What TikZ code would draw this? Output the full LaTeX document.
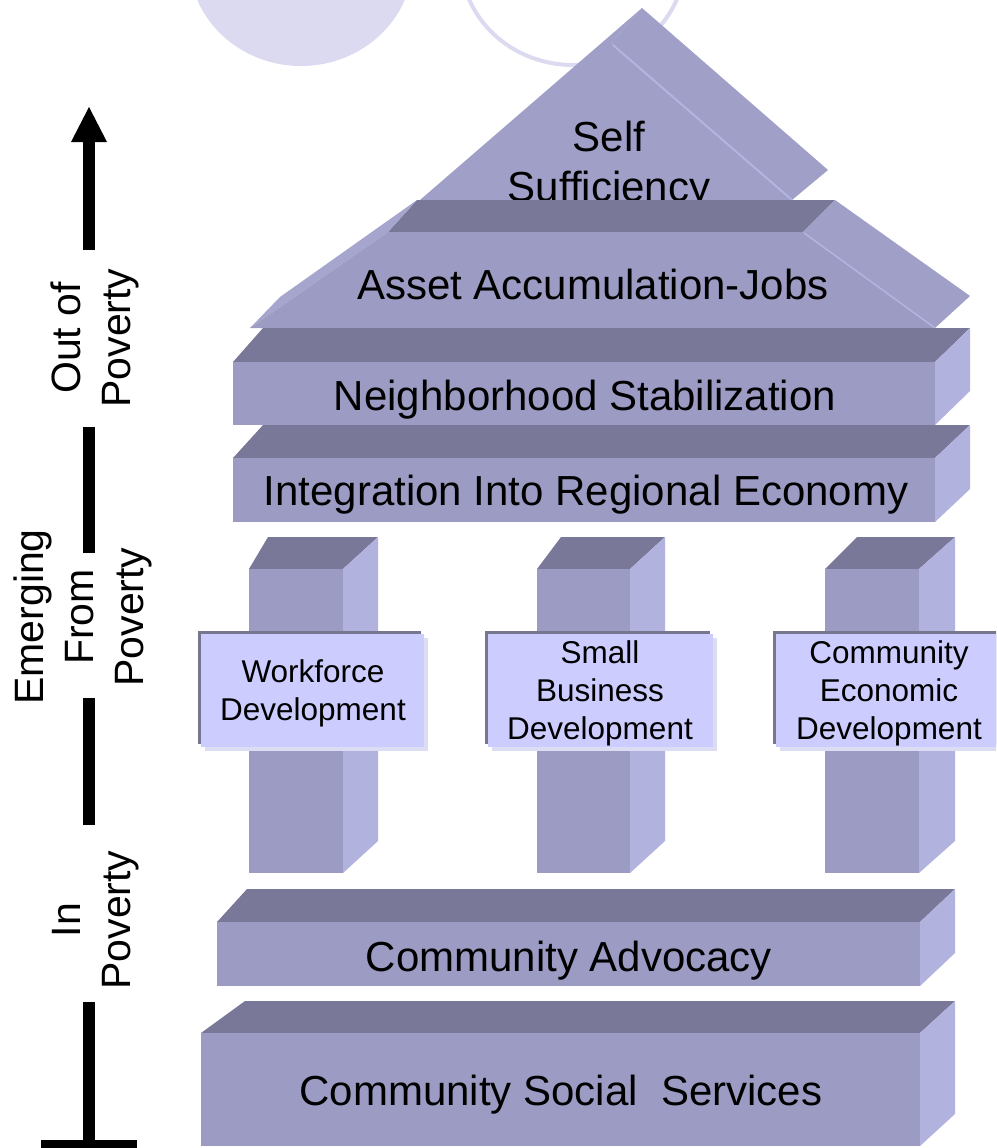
\documentclass[tikz,border=0pt]{standalone}
\usepackage{fontspec}
\setmainfont{Liberation Sans}
\definecolor{frontc}{HTML}{9C9BC4}
\definecolor{topc}{HTML}{7A7898}
\definecolor{sidec}{HTML}{B2B2DF}
\definecolor{roofc}{HTML}{A09FC8}
\definecolor{sliverc}{HTML}{A6A5CD}
\definecolor{ridgec}{HTML}{B4B4E2}
\definecolor{labelc}{HTML}{CCCCFF}
\definecolor{labdark}{HTML}{76768E}
\definecolor{labshadow}{HTML}{DCDCF2}
\definecolor{circc}{HTML}{DCDAF0}
% front rect x1,y1,x2,y2 ; left dx ; right dx ; depth (up)
\newcommand\prismbox[7]{%
  \fill[topc] (#1,#2) -- (#3,#2) -- (#3+#6,#2-#7) -- (#1+#5,#2-#7) -- cycle;
  \fill[sidec] (#3,#2) -- (#3+#6,#2-#7) -- (#3+#6,#4-#7) -- (#3,#4) -- cycle;
  \fill[frontc] (#1,#2) rectangle (#3,#4);
}
\newcommand\labelbox[4]{%
  \fill[labdark] (#1-3,#2-3) rectangle (#3-3,#4-3);
  \fill[labshadow] (#1+4,#2+4) rectangle (#3+4,#4+4);
  \fill[labelc] (#1,#2) rectangle (#3,#4);
}
\begin{document}
\begin{tikzpicture}[x=1pt,y=-1pt,
  every node/.style={inner sep=0pt,outer sep=0pt},
  bigtxt/.style={font=\fontsize{42}{50}\selectfont,align=center},
  sidetxt/.style={font=\fontsize{41}{50}\selectfont,align=center,rotate=90},
  pilltxt/.style={font=\fontsize{31.5}{38}\selectfont,align=center}]
\useasboundingbox (0,0) rectangle (996,1148);
\clip (0,0) rectangle (996,1148);

% background circles
\fill[circc] (301,-40) ellipse [x radius=112pt, y radius=106pt];
\draw[circc,line width=4pt] (573,-40) ellipse [x radius=112pt, y radius=105pt];

% roof: Self Sufficiency
\fill[roofc] (611,43) -- (642,8) -- (828,170) -- (792,200) -- cycle;
\fill[roofc] (642,8) -- (611,43) -- (792,200) -- (420,200) -- cycle;
\draw[ridgec,line width=2pt] (613,45) -- (792,200);
\node[bigtxt] (self) at (609,166) {Self\\Sufficiency};

% Asset Accumulation-Jobs (trapezoid prism)
\fill[topc] (388,232) -- (803,232) -- (835,200) -- (417,200) -- cycle;
\fill[roofc] (803,232) -- (835,200) -- (970,296) -- (935,328) -- cycle;
\fill[sliverc] (388,232) -- (417,200) -- (280,297) -- (250,328) -- cycle;
\fill[frontc] (388,232) -- (803,232) -- (935,328) -- (250,328) -- cycle;
\draw[ridgec,line width=1.5pt] (804,233) -- (935,328);
\node[bigtxt,anchor=base] (asset) at (593,299) {Asset Accumulation-Jobs};

% Neighborhood Stabilization
\prismbox{233}{362}{935}{425}{30}{35}{34}
\node[bigtxt,anchor=base] (neigh) at (585,410) {Neighborhood Stabilization};

% Integration Into Regional Economy
\prismbox{233}{458}{935}{522}{30}{35}{33}
\node[bigtxt,anchor=base] (integ) at (586,505) {Integration Into Regional Economy};

% pillars
\prismbox{249}{569}{343}{873}{19}{35}{32}
\prismbox{537}{569}{630}{873}{24}{35}{32}
\prismbox{825}{569}{919}{873}{32}{36}{32}

\labelbox{201}{634}{424}{747}
\labelbox{488}{634}{713}{747}
\labelbox{776}{634}{1002}{747}
\node[pilltxt] (wd) at (313,693) {Workforce\\Development};
\node[pilltxt] (sbd) at (600,693) {Small\\Business\\Development};
\node[pilltxt] (ced) at (889,693) {Community\\Economic\\Development};

% Community Advocacy
\prismbox{217}{922}{920}{986}{30}{35}{33}
\node[bigtxt,anchor=base] (adv) at (569,971) {Community Advocacy};

% Community Social Services
\prismbox{201}{1033}{920}{1146}{44}{35}{32}
\node[bigtxt,anchor=base] (css) at (561,1105) {Community Social\ \ Services};

% left arrow scale
\fill[black] (89,107) -- (107,142) -- (71,142) -- cycle;
\fill[black] (83,141) rectangle (95,250);
\fill[black] (83,427) rectangle (95,553);
\fill[black] (83,698) rectangle (95,825);
\fill[black] (83,1002) rectangle (95,1141);
\fill[black] (41,1140) rectangle (137,1148);

\node[sidetxt] (out) at (95,338) {Out of\\Poverty};
\node[sidetxt] (emerg) at (83,617) {Emerging\\From\\Poverty};
\node[sidetxt] (inpov) at (96,920) {In\\Poverty};
\end{tikzpicture}
\end{document}
